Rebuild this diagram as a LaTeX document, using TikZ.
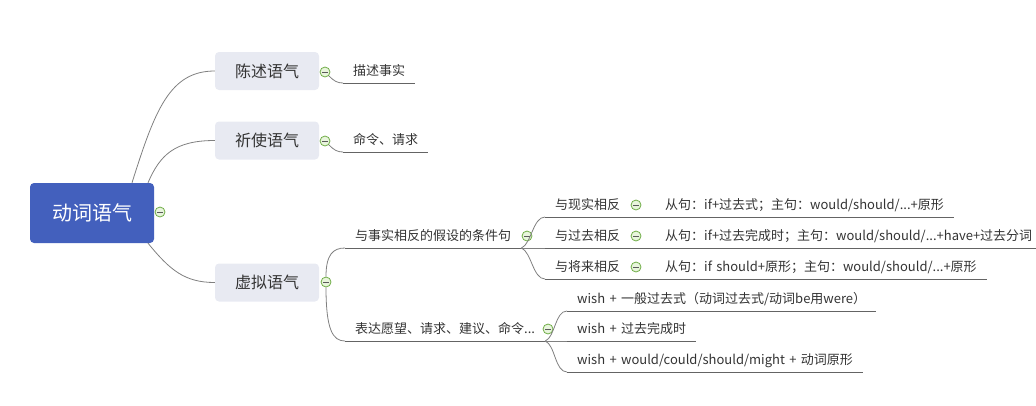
\documentclass[tikz,border=0pt]{standalone}
\usepackage{fontspec}
\setmainfont{Noto Sans CJK SC}[WordSpace=1.5]
\definecolor{rootblue}{RGB}{67,96,189}
\definecolor{topicgray}{RGB}{232,234,242}
\definecolor{linegray}{RGB}{128,128,128}
\definecolor{ulinegray}{RGB}{100,100,100}
\definecolor{textgray}{RGB}{51,51,51}
\definecolor{foldgreen}{RGB}{112,173,71}
\definecolor{foldfill}{RGB}{232,245,220}
\definecolor{foldminus}{RGB}{90,90,90}

\begin{document}
\begin{tikzpicture}[x=1pt,y=-1pt,
  root/.style={rectangle,rounded corners=4pt,fill=rootblue,text=white,minimum width=124pt,minimum height=60pt,font=\fontsize{20}{24}\selectfont},
  topic/.style={rectangle,rounded corners=4pt,fill=topicgray,text=textgray,minimum width=104pt,minimum height=38pt,font=\fontsize{16}{19}\selectfont},
  leaf/.style={anchor=south west,inner xsep=10pt,inner ysep=0pt,minimum height=23pt,text height=10.5pt,text depth=2pt,text=textgray,font=\fontsize{13}{16}\selectfont},
  fold/.style={circle,draw=foldgreen,fill=foldfill,line width=0.8pt,minimum size=10pt,inner sep=0pt,
    path picture={\draw[foldminus,line width=0.9pt] ([xshift=-2.8pt]path picture bounding box.center) -- ([xshift=2.8pt]path picture bounding box.center);}},
  branch/.style={draw=linegray,line width=0.8pt},
  uline/.style={draw=ulinegray,line width=0.9pt}]
\useasboundingbox (0,0) rectangle (1036,405);

\node[root] (root) at (92,213) {动词语气};
\node[fold] (froot) at (160,212) {};

\node[topic] (chen) at (267,71) {陈述语气};
\node[topic] (qishi) at (267,140.5) {祈使语气};
\node[topic] (xuni) at (267,282.5) {虚拟语气};
\node[fold] (fchen) at (325,72) {};
\node[fold] (fqishi) at (325,141) {};
\node[fold] (fxuni) at (326,282) {};

\draw[branch] ([xshift=40pt]root.north) .. controls +(23,-73) and +(-45,0) .. (chen.west);
\draw[branch] ([xshift=56pt]root.north) .. controls +(12,-28) and +(-40,0) .. (qishi.west);
\draw[branch] ([xshift=56pt]root.south) .. controls +(22,27) and +(-30,0) .. (xuni.west);

% leaves of the first two topics
\node[leaf] (miaoshu) at (343,83) {描述事实};
\node[leaf] (mingling) at (343,152) {命令、请求};
\draw[branch] (fchen.south east) .. controls +(5,5) and +(-6,0) .. (miaoshu.south west);
\draw[branch] (fqishi.south east) .. controls +(5,5) and +(-6,0) .. (mingling.south west);
\draw[uline] (miaoshu.south west) -- (miaoshu.south east);
\draw[uline] (mingling.south west) -- (mingling.south east);

% conditional clauses
\node[leaf] (tiaojian) at (345,248) {与事实相反的假设的条件句};
\node[fold] (ftiaojian) at (527,236) {};
\draw[branch] (fxuni.north) .. controls +(0,-22) and +(-12,0) .. (tiaojian.south west);
\draw[uline] (tiaojian.south west) -- (tiaojian.south east);

\node[leaf] (xianzai) at (545,217) {与现实相反};
\node[leaf] (guoqu) at (545,248) {与过去相反};
\node[leaf] (jianglai) at (545,279) {与将来相反};
\node[fold] (fxianzai) at (636,205) {};
\node[fold] (fguoqu) at (636,236) {};
\node[fold] (fjianglai) at (636,267) {};
\node[leaf] (xianzaiju) at (655,217) {从句：if+过去式；主句：would/should/...+原形};
\node[leaf] (guoquju) at (655,248) {从句：if+过去完成时；主句：would/should/...+have+过去分词};
\node[leaf] (jianglaiju) at (655,279) {从句：if should+原形；主句：would/should/...+原形};

\draw[branch] (tiaojian.south east) .. controls +(10,-4) and +(-12,0) .. (xianzai.south west);
\draw[branch] (tiaojian.south east) -- (guoqu.south west);
\draw[branch] (tiaojian.south east) .. controls +(10,4) and +(-12,0) .. (jianglai.south west);
\draw[uline] (xianzai.south west) -- (xianzaiju.south east);
\draw[uline] (guoqu.south west) -- (guoquju.south east);
\draw[uline] (jianglai.south west) -- (jianglaiju.south east);

% wishes
\node[leaf] (yuanwang) at (345,341) {表达愿望、请求、建议、命令...};
\node[fold] (fyuanwang) at (548,329) {};
\draw[branch] (fxuni.south) .. controls +(0,43) and +(-12,0) .. (yuanwang.south west);
\draw[uline] (yuanwang.south west) -- (yuanwang.south east);

\node[leaf] (wish1) at (567,311) {wish + 一般过去式（动词过去式/动词be用were）};
\node[leaf] (wish2) at (567,341) {wish + 过去完成时};
\node[leaf] (wish3) at (567,372) {wish + would/could/should/might + 动词原形};
\draw[branch] (yuanwang.south east) .. controls +(10,-4) and +(-12,0) .. (wish1.south west);
\draw[branch] (yuanwang.south east) -- (wish2.south west);
\draw[branch] (yuanwang.south east) .. controls +(10,4) and +(-12,0) .. (wish3.south west);
\draw[uline] (wish1.south west) -- (wish1.south east);
\draw[uline] (wish2.south west) -- (wish2.south east);
\draw[uline] (wish3.south west) -- (wish3.south east);
\end{tikzpicture}
\end{document}
